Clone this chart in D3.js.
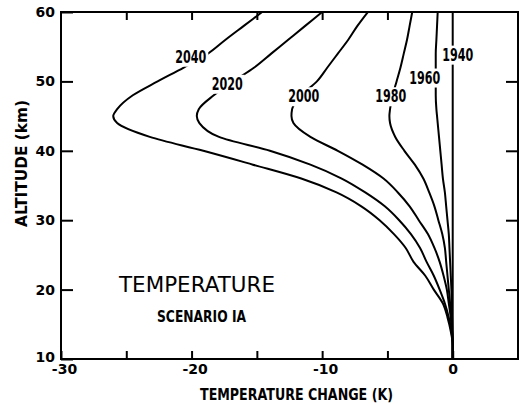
<!DOCTYPE html>
<html>
<head>
<meta charset="utf-8">
<script src="https://cdn.jsdelivr.net/npm/d3@7"></script>
<style>
  body { margin: 0; background: #fff; }
  svg { display: block; }
</style>
</head>
<body>
<svg id="drawing_region"></svg>
<script>
// altitude grid (km) shared by every curve
const altitudes = [60, 58, 56, 54, 52, 50, 48, 46, 45, 44, 42, 40, 38, 36, 34, 32, 30, 28, 26, 24, 22, 20, 18, 16, 14, 12, 10];

// temperature change (K) at those altitudes
const dT2040 = [-14.6, -16.0, -17.4, -18.75, -20.6, -22.6, -24.5, -25.7, -26.0, -25.7, -23.2, -19.1, -15.3, -11.6, -8.9, -7.0, -5.6, -4.5, -3.6, -3.0, -2.1, -1.45, -0.75, -0.4, -0.15, 0, 0];
const dT2020 = [-10.0, -11.3, -12.6, -13.9, -15.2, -16.8, -18.3, -19.45, -19.6, -19.4, -17.9, -14.0, -10.9, -8.5, -6.7, -5.2, -4.1, -3.2, -2.5, -2.0, -1.45, -1.0, -0.6, -0.3, -0.1, 0, 0];
const dT2000 = [-6.5, -7.3, -8.0, -8.8, -9.6, -10.4, -11.6, -12.3, -12.35, -12.2, -10.9, -8.8, -6.9, -5.3, -4.2, -3.3, -2.6, -1.9, -1.4, -1.0, -0.7, -0.45, -0.3, -0.15, -0.05, 0, 0];
const dT1980 = [-3.1, -3.3, -3.5, -3.75, -4.0, -4.3, -4.6, -4.8, -4.85, -4.8, -4.4, -3.7, -2.9, -2.25, -1.8, -1.4, -1.1, -0.8, -0.6, -0.5, -0.4, -0.3, -0.2, -0.12, -0.05, 0, 0];
const dT1960 = [-1.15, -1.2, -1.25, -1.3, -1.3, -1.3, -1.3, -1.25, -1.2, -1.15, -1.05, -0.95, -0.85, -0.75, -0.6, -0.5, -0.4, -0.3, -0.25, -0.2, -0.15, -0.1, -0.08, -0.05, -0.02, 0, 0];
const dT1940 = [0, 0, 0, 0, 0, 0, 0, 0, 0, 0, 0, 0, 0, 0, 0, 0, 0, 0, 0, 0, 0, 0, 0, 0, 0, 0, 0];

const years = ['2040', '2020', '2000', '1980', '1960', '1940'];
const seriesValues = [dT2040, dT2020, dT2000, dT1980, dT1960, dT1940];

// where each year label sits, in data units
const labelDT = [-20.06, -17.27, -11.4, -4.75, -2.14, 0.38];
const labelAlt = [53.6, 49.7, 47.9, 47.9, 50.6, 53.9];

const xTickLabels = [-30, -20, -10, 0];
const xMinorTicks = [-25, -15, -5];
const yTickLabels = [10, 20, 30, 40, 50, 60];

const config = {
  width: 521,
  height: 404,
  margin: {top: 12, right: 3, bottom: 45, left: 61}
};

const inner_width = config.width - config.margin.left - config.margin.right;
const inner_height = config.height - config.margin.top - config.margin.bottom;

const svg = d3.select('#drawing_region')
  .attr('width', config.width)
  .attr('height', config.height);

const chart = svg.append('g')
  .attr('transform', `translate(${config.margin.left}, ${config.margin.top})`);

const xscale = d3.scaleLinear().domain([-30, 5]).range([0, inner_width]);
const yscale = d3.scaleLinear().domain([10, 60]).range([inner_height, 0]);

// axes, ticks pointing inward
const tickFont = 'DejaVu Sans, sans-serif';

const xaxis = d3.axisBottom(xscale)
  .tickValues(xTickLabels.concat(xMinorTicks))
  .tickFormat(d => xTickLabels.includes(d) ? String(d) : '')
  .tickSizeInner(-8)
  .tickSizeOuter(0)
  .tickPadding(5);

const yaxis = d3.axisLeft(yscale)
  .tickValues(yTickLabels)
  .tickFormat(d => String(d))
  .tickSizeInner(-12)
  .tickSizeOuter(0)
  .tickPadding(6);

const xaxis_top = d3.axisTop(xscale)
  .tickValues([-25, -20, -15, -10, -5])
  .tickFormat('')
  .tickSizeInner(-8)
  .tickSizeOuter(0);

const yaxis_right = d3.axisRight(yscale)
  .tickValues([20, 30, 40, 50])
  .tickFormat('')
  .tickSizeInner(-12)
  .tickSizeOuter(0);

const xg = chart.append('g')
  .attr('transform', `translate(0, ${inner_height})`)
  .call(xaxis);
const yg = chart.append('g').call(yaxis);
const xtg = chart.append('g').call(xaxis_top);
const yrg = chart.append('g')
  .attr('transform', `translate(${inner_width}, 0)`)
  .call(yaxis_right);

[xg, yg, xtg, yrg].forEach(g => {
  g.select('.domain').remove();
  g.selectAll('.tick line').attr('stroke', '#000').attr('stroke-width', 2);
  g.selectAll('.tick text')
    .attr('fill', '#000')
    .style('font-family', tickFont)
    .style('font-weight', 'bold')
    .style('font-size', '14px');
});

// the minus sign hangs to the left of the digits
xg.selectAll('.tick text').attr('dx', d => d < 0 ? 3 : 0);
// lowest altitude label sits a little above its tick
yg.selectAll('.tick text').attr('dy', d => d === 10 ? '0.2em' : '0.32em');

// frame
chart.append('rect')
  .attr('x', 0)
  .attr('y', 0)
  .attr('width', inner_width)
  .attr('height', inner_height)
  .attr('fill', 'none')
  .attr('stroke', '#000')
  .attr('stroke-width', 2);

// curves
const line = d3.line()
  .x(d => xscale(d[0]))
  .y(d => yscale(d[1]))
  .curve(d3.curveMonotoneY);

seriesValues.forEach(vals => {
  chart.append('path')
    .attr('d', line(vals.map((v, i) => [v, altitudes[i]])))
    .attr('fill', 'none')
    .attr('stroke', '#000')
    .attr('stroke-width', 2)
    .attr('stroke-linejoin', 'round');
});

// year labels, with a white patch that breaks the line underneath
years.forEach((yr, i) => {
  const g = chart.append('g');
  const t = g.append('text')
    .attr('x', xscale(labelDT[i]))
    .attr('y', yscale(labelAlt[i]))
    .attr('dy', '0.36em')
    .attr('text-anchor', 'middle')
    .attr('textLength', 31)
    .attr('lengthAdjust', 'spacingAndGlyphs')
    .style('font-family', tickFont)
    .style('font-weight', 'bold')
    .style('font-size', '17.5px')
    .text(yr);
  const bb = t.node().getBBox();
  g.insert('rect', 'text')
    .attr('x', bb.x - 2)
    .attr('y', bb.y + 1)
    .attr('width', bb.width + 4)
    .attr('height', bb.height - 1)
    .attr('fill', '#fff');
});

// in-plot titles
chart.append('text')
  .attr('x', 197 - config.margin.left)
  .attr('y', 292 - config.margin.top)
  .attr('text-anchor', 'middle')
  .attr('textLength', 156)
  .attr('lengthAdjust', 'spacingAndGlyphs')
  .style('font-family', tickFont)
  .style('font-size', '21px')
  .style('font-weight', 'normal')
  .text('TEMPERATURE');

chart.append('text')
  .attr('x', 201.5 - config.margin.left)
  .attr('y', 322 - config.margin.top)
  .attr('text-anchor', 'middle')
  .attr('textLength', 89)
  .attr('lengthAdjust', 'spacingAndGlyphs')
  .style('font-family', tickFont)
  .style('font-weight', 'bold')
  .style('font-size', '16px')
  .text('SCENARIO IA');

// axis titles
svg.append('text')
  .attr('x', 296.5)
  .attr('y', 400)
  .attr('text-anchor', 'middle')
  .attr('textLength', 193)
  .attr('lengthAdjust', 'spacingAndGlyphs')
  .style('font-family', tickFont)
  .style('font-weight', 'bold')
  .style('font-size', '16px')
  .text('TEMPERATURE CHANGE (K)');

svg.append('text')
  .attr('transform', 'translate(21, 163.5) rotate(-90)')
  .attr('dy', '0.36em')
  .attr('text-anchor', 'middle')
  .attr('textLength', 127)
  .attr('lengthAdjust', 'spacingAndGlyphs')
  .style('font-family', tickFont)
  .style('font-weight', 'bold')
  .style('font-size', '16px')
  .text('ALTITUDE (km)');
</script>
</body>
</html>
